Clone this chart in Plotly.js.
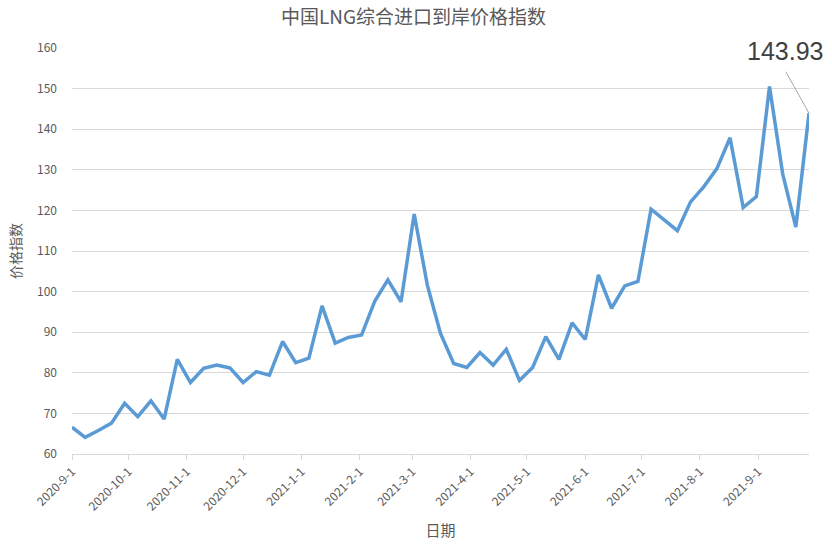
<!DOCTYPE html>
<html>
<head>
<meta charset="utf-8">
<script src="https://cdn.plot.ly/plotly-3.0.1.min.js"></script>
<style>html,body{margin:0;padding:0;background:#fff;}#chart{width:832px;height:549px;}</style>
</head>
<body>
<div id="chart"></div>
<script>
const dates = [
  '2020-09-01','2020-09-08','2020-09-15','2020-09-22','2020-09-29',
  '2020-10-06','2020-10-13','2020-10-20','2020-10-27',
  '2020-11-03','2020-11-10','2020-11-17','2020-11-24',
  '2020-12-01','2020-12-08','2020-12-15','2020-12-22','2020-12-29',
  '2021-01-05','2021-01-12','2021-01-19','2021-01-26',
  '2021-02-02','2021-02-09','2021-02-16','2021-02-23',
  '2021-03-02','2021-03-09','2021-03-16','2021-03-23','2021-03-30',
  '2021-04-06','2021-04-13','2021-04-20','2021-04-27',
  '2021-05-04','2021-05-11','2021-05-18','2021-05-25',
  '2021-06-01','2021-06-08','2021-06-15','2021-06-22','2021-06-29',
  '2021-07-06','2021-07-13','2021-07-20','2021-07-27',
  '2021-08-03','2021-08-10','2021-08-17','2021-08-24','2021-08-31',
  '2021-09-07','2021-09-14','2021-09-21','2021-09-28'
];
const priceIndex = [
  66.6, 64.1, 65.8, 67.6, 72.5,
  69.2, 73.1, 68.6, 83.3,
  77.6, 81.1, 81.9, 81.2,
  77.6, 80.3, 79.4, 87.7, 82.5,
  83.6, 96.5, 87.3, 88.7,
  89.3, 97.6, 102.9, 97.5,
  119.1, 101.6, 89.7, 82.3, 81.3,
  85.0, 81.9, 85.8, 78.1,
  81.3, 88.9, 83.3, 92.3,
  88.2, 104.1, 95.9, 101.4, 102.5,
  120.3, 117.6, 115.0, 122.1,
  125.8, 130.3, 137.9, 120.7, 123.4,
  150.5, 129.0, 115.9, 143.93
];
const tickDates = ['2020-09-01','2020-10-01','2020-11-01','2020-12-01','2021-01-01','2021-02-01','2021-03-01','2021-04-01','2021-05-01','2021-06-01','2021-07-01','2021-08-01','2021-09-01'];
const tickLabels = ['2020-9-1','2020-10-1','2020-11-1','2020-12-1','2021-1-1','2021-2-1','2021-3-1','2021-4-1','2021-5-1','2021-6-1','2021-7-1','2021-8-1','2021-9-1'];
const yTicks = [60,70,80,90,100,110,120,130,140,150,160];

const FONT = '"Noto Sans CJK SC", "Noto Sans", sans-serif';
const lastX = dates[dates.length-1];
const lastY = priceIndex[priceIndex.length-1];

const trace = {
  x: dates, y: priceIndex, type: 'scatter', mode: 'lines',
  line: {color: '#5b9bd5', width: 3.5, shape: 'linear'},
  hoverinfo: 'x+y'
};

const layout = {
  width: 832, height: 549,
  paper_bgcolor: '#ffffff', plot_bgcolor: '#ffffff',
  margin: {l: 72, r: 23, t: 48, b: 95, autoexpand: false},
  showlegend: false,
  font: {family: FONT, color: '#595959', size: 12},
  title: {
    text: '中国LNG综合进口到岸价格指数',
    font: {family: FONT, size: 19, color: '#595959'},
    xref: 'container', x: 0.497, xanchor: 'center',
    yref: 'container', y: 0.968, yanchor: 'middle'
  },
  xaxis: {
    type: 'date',
    range: [dates[0], lastX],
    tickmode: 'array', tickvals: tickDates, ticktext: tickLabels,
    tickangle: -45,
    tickfont: {family: FONT, size: 12, color: '#595959'},
    ticks: 'outside', ticklen: 5, tickcolor: '#d9d9d9', tickwidth: 1,
    showline: true, linecolor: '#d9d9d9', linewidth: 1,
    showgrid: false, zeroline: false,
    title: {text: '日期', font: {family: FONT, size: 15, color: '#595959'}, standoff: 12}
  },
  yaxis: {
    range: [60, 160],
    tickmode: 'array', tickvals: yTicks,
    tickfont: {family: FONT, size: 12, color: '#595959'},
    ticks: '', ticklabelstandoff: 14,
    showgrid: true, gridcolor: '#d9d9d9', gridwidth: 1,
    zeroline: false, showline: false,
    title: {text: '价格指数', font: {family: FONT, size: 14, color: '#595959'}, standoff: 12}
  },
  annotations: [
    {
      x: lastX, y: lastY, xref: 'x', yref: 'y',
      text: '', showarrow: true, arrowhead: 0, arrowwidth: 1,
      arrowcolor: '#a6a6a6', ax: -24, ay: -43, standoff: 0
    },
    {
      x: lastX, y: lastY, xref: 'x', yref: 'y',
      text: '143.93', showarrow: false,
      font: {family: '"Liberation Sans", "Noto Sans", sans-serif', size: 25, color: '#404040'},
      xanchor: 'center', yanchor: 'middle', xshift: -24, yshift: 62
    }
  ]
};

Plotly.newPlot('chart', [trace], layout, {displayModeBar: false, staticPlot: true});
</script>
</body>
</html>
